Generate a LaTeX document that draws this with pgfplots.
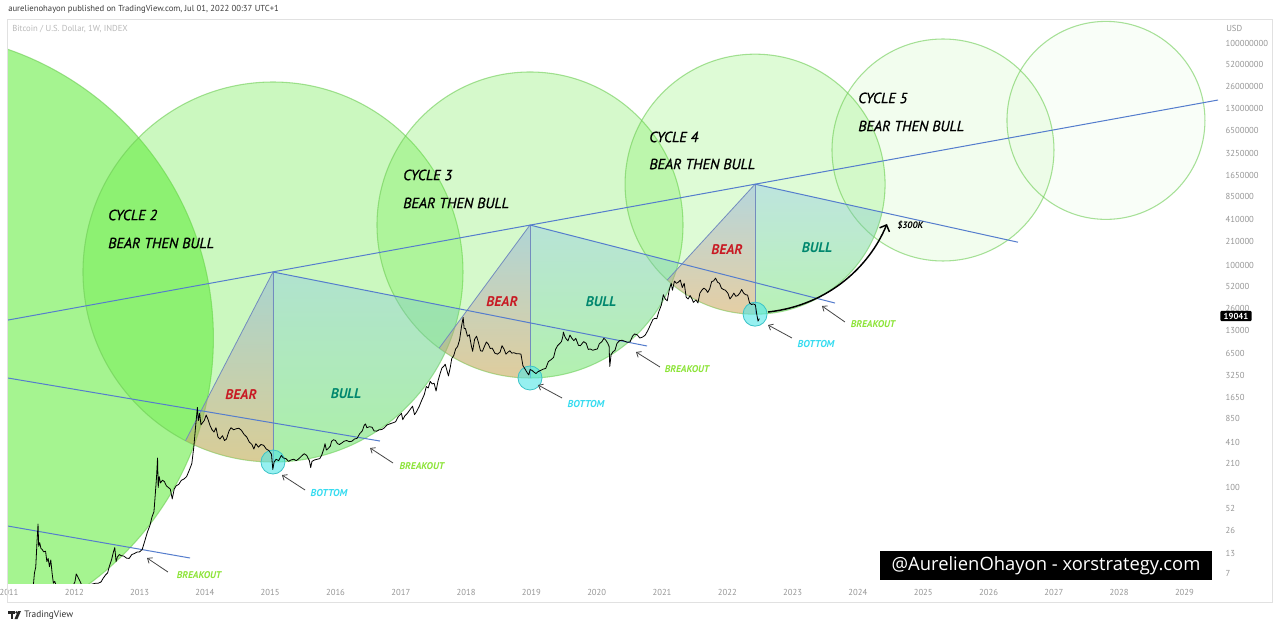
\documentclass[border=0pt]{standalone}
\usepackage{pgfplots}
\pgfplotsset{compat=1.18}
\usepackage{fontspec}
\setmainfont{PT Sans}
\newfontfamily\wmfont{Open Sans}
\newfontfamily\annfont[FakeBold=0.9]{PT Sans}
\usetikzlibrary{arrows.meta}
\definecolor{cgreen}{RGB}{90,235,50}
\definecolor{cedge}{RGB}{110,205,85}
\definecolor{tline}{RGB}{85,125,205}
\definecolor{sedge}{RGB}{115,140,190}
\definecolor{beartop}{RGB}{120,160,230}
\definecolor{bearbot}{RGB}{240,140,90}
\definecolor{bulltop}{RGB}{125,185,240}
\definecolor{bullbot}{RGB}{110,225,120}
\definecolor{cyanfill}{RGB}{80,230,230}
\definecolor{cyanedge}{RGB}{60,195,200}
\definecolor{bearred}{RGB}{200,25,35}
\definecolor{bullteal}{RGB}{0,135,110}
\definecolor{botcyan}{RGB}{55,220,240}
\definecolor{bogreen}{RGB}{140,228,55}
\definecolor{tickgray}{RGB}{150,150,150}
\definecolor{framegray}{RGB}{225,225,225}
\definecolor{arrowgray}{RGB}{70,70,70}
\begin{document}
\begin{tikzpicture}
\useasboundingbox (0pt,0pt) rectangle (960pt,-470.25pt);
\fill[white] (0pt,0pt) rectangle (960pt,-470.25pt);
\begin{axis}[
  at={(6pt,-437.25pt)}, anchor=south west,
  scale only axis, width=907.5pt, height=422.25pt,
  xmin=2010.985, xmax=2029.514,
  ymode=log, ymin=5.125, ymax=2.045e8,
  axis line style={draw=none},
  major tick length=0pt, minor tick length=0pt,
  xtick={2011,2012,2013,2014,2015,2016,2017,2018,2019,2020,2021,2022,2023,2024,2025,2026,2027,2028,2029},
  xticklabels={2011,2012,2013,2014,2015,2016,2017,2018,2019,2020,2021,2022,2023,2024,2025,2026,2027,2028,2029},
  ytick={7,13,26,52,100,210,410,850,1650,3250,6500,13000,26000,52000,100000,210000,410000,850000,1650000,3250000,6500000,13000000,26000000,52000000,100000000},
  yticklabels={7,13,26,52,100,210,410,850,1650,3250,6500,13000,26000,52000,100000,210000,410000,850000,1650000,3250000,6500000,13000000,26000000,52000000,100000000},
  yticklabel pos=right,
  tick label style={font=\fontsize{6.5}{7}\selectfont, text=tickgray},
  xticklabel style={anchor=north, inner sep=0pt, yshift=-4.8pt},
  yticklabel style={anchor=west, inner sep=0pt, xshift=5.5pt},
]
% circles
\draw[cedge, draw opacity=0.6, line width=0.8pt, fill=cgreen, fill opacity=0.54] (rel axis cs:-0.0826,0.4352) circle[radius=229pt];
\draw[cedge, draw opacity=0.6, line width=0.8pt, fill=cgreen, fill opacity=0.31] (rel axis cs:0.2190,0.5524) circle[radius=142.5pt];
\draw[cedge, draw opacity=0.6, line width=0.8pt, fill=cgreen, fill opacity=0.25] (rel axis cs:0.4314,0.6359) circle[radius=114.75pt];
\draw[cedge, draw opacity=0.6, line width=0.8pt, fill=cgreen, fill opacity=0.20] (rel axis cs:0.6174,0.7084) circle[radius=97.5pt];
\draw[cedge, draw opacity=0.6, line width=0.8pt, fill=cgreen, fill opacity=0.08] (rel axis cs:0.7727,0.7691) circle[radius=83.25pt];
\draw[cedge, draw opacity=0.6, line width=0.8pt, fill=cgreen, fill opacity=0.03] (rel axis cs:0.9074,0.8217) circle[radius=74.25pt];
% cycle 2 slices
\shade[top color=beartop, bottom color=bearbot, opacity=0.4] (rel axis cs:0.2190,0.5524) -- ++(242.6:142.5pt) arc[start angle=242.6, end angle=270, radius=142.5pt] -- cycle;
\shade[top color=bulltop, bottom color=bullbot, opacity=0.33] (rel axis cs:0.2190,0.5524) -- ++(270:142.5pt) arc[start angle=270, end angle=348.81, radius=142.5pt] -- cycle;
\draw[sedge, line width=0.6pt] (rel axis cs:0.2190,0.5524) -- ++(242.6:142.5pt);
\draw[sedge, line width=0.6pt] (rel axis cs:0.2190,0.5524) -- ++(270:142.5pt);
% cycle 3 slices
\shade[top color=beartop, bottom color=bearbot, opacity=0.4] (rel axis cs:0.4314,0.6359) -- ++(233.6:114.75pt) arc[start angle=233.6, end angle=270, radius=114.75pt] -- cycle;
\shade[top color=bulltop, bottom color=bullbot, opacity=0.33] (rel axis cs:0.4314,0.6359) -- ++(270:114.75pt) arc[start angle=270, end angle=345.65, radius=114.75pt] -- cycle;
\draw[sedge, line width=0.6pt] (rel axis cs:0.4314,0.6359) -- ++(233.6:114.75pt);
\draw[sedge, line width=0.6pt] (rel axis cs:0.4314,0.6359) -- ++(270:114.75pt);
% cycle 4 slices
\shade[top color=beartop, bottom color=bearbot, opacity=0.4] (rel axis cs:0.6174,0.7084) -- ++(227.5:97.5pt) arc[start angle=227.5, end angle=270, radius=97.5pt] -- cycle;
\shade[top color=bulltop, bottom color=bullbot, opacity=0.33] (rel axis cs:0.6174,0.7084) -- ++(270:97.5pt) arc[start angle=270, end angle=347.56, radius=97.5pt] -- cycle;
\draw[sedge, line width=0.6pt] (rel axis cs:0.6174,0.7084) -- ++(227.5:97.5pt);
\draw[sedge, line width=0.6pt] (rel axis cs:0.6174,0.7084) -- ++(270:97.5pt);
% trend lines
\addplot[tline, line width=0.75pt] coordinates {(2010.985,18197) (2029.514,1.700e7)};
\addplot[tline, line width=0.75pt] coordinates {(2010.985,30.1) (2013.772,11.15)};
\addplot[tline, line width=0.75pt] coordinates {(2010.985,3000) (2016.681,423)};
\addplot[tline, line width=0.75pt] coordinates {(2015.043,80970) (2020.770,8120)};
\addplot[tline, line width=0.75pt] coordinates {(2018.978,349100) (2023.649,30870)};
\addplot[tline, line width=0.75pt] coordinates {(2022.425,1.242e6) (2026.451,204400)};
% bottom markers
\draw[cyanedge, line width=0.6pt, fill=cyanfill, fill opacity=0.6] (rel axis cs:0.2190,0.5524) ++(0pt,-142.5pt) circle[radius=9pt];
\draw[cyanedge, line width=0.6pt, fill=cyanfill, fill opacity=0.6] (rel axis cs:0.4314,0.6359) ++(0pt,-114.75pt) circle[radius=9pt];
\draw[cyanedge, line width=0.6pt, fill=cyanfill, fill opacity=0.6] (rel axis cs:0.6174,0.7084) ++(0pt,-97.5pt) circle[radius=9pt];
% price
\addplot[black, line width=0.6pt, line join=round] coordinates {
(2011.00,0.30) (2011.10,1.0) (2011.20,0.85) (2011.28,0.8) (2011.32,1.5) (2011.36,3.5) (2011.39,7.0) (2011.41,8.4) (2011.43,19) (2011.445,32) (2011.455,16) (2011.47,18) (2011.49,15) (2011.51,14.5) (2011.53,13.5) (2011.56,13.8) (2011.58,10) (2011.60,11) (2011.62,8.5) (2011.64,10.5) (2011.66,7) (2011.68,5.1) (2011.70,5.4) (2011.72,4.8) (2011.76,4.0) (2011.80,3.2) (2011.84,2.5) (2011.87,2.9) (2011.90,3.0) (2011.94,3.4) (2011.98,4.7)
(2012.01,5.3) (2012.03,6.8) (2012.05,6.3) (2012.08,5.6) (2012.11,4.9) (2012.14,4.4) (2012.17,4.9) (2012.21,4.8) (2012.25,4.9) (2012.29,5.0) (2012.33,5.1) (2012.37,5.1) (2012.41,5.3) (2012.44,5.9) (2012.48,6.6) (2012.51,7.0) (2012.54,8.8) (2012.57,10.5) (2012.60,13.5) (2012.62,15.4) (2012.64,10) (2012.66,11.5) (2012.69,12.4) (2012.72,12.0) (2012.76,11.8) (2012.80,11.1) (2012.84,11.0) (2012.88,12.4) (2012.92,12.8) (2012.96,13.4)
(2013.00,13.5) (2013.04,14.5) (2013.08,19) (2013.12,25) (2013.16,31) (2013.19,40) (2013.22,47) (2013.24,80) (2013.26,140) (2013.275,250) (2013.285,100) (2013.30,140) (2013.32,115) (2013.35,125) (2013.38,120) (2013.41,105) (2013.44,100) (2013.47,95) (2013.50,70) (2013.53,95) (2013.56,105) (2013.60,110) (2013.64,125) (2013.68,130) (2013.72,140) (2013.76,170) (2013.80,210) (2013.83,350) (2013.86,700) (2013.885,1200) (2013.90,800) (2013.92,1000) (2013.94,700) (2013.96,740) (2013.99,800)
(2014.02,950) (2014.05,820) (2014.08,680) (2014.11,600) (2014.14,560) (2014.17,640) (2014.20,480) (2014.23,450) (2014.27,500) (2014.30,430) (2014.33,450) (2014.37,580) (2014.40,640) (2014.44,600) (2014.48,620) (2014.52,630) (2014.56,590) (2014.60,520) (2014.64,480) (2014.68,410) (2014.72,380) (2014.75,330) (2014.78,390) (2014.82,350) (2014.86,380) (2014.90,370) (2014.94,330) (2014.98,315)
(2015.02,280) (2015.04,175) (2015.06,220) (2015.09,240) (2015.13,230) (2015.17,270) (2015.20,250) (2015.24,245) (2015.28,225) (2015.32,235) (2015.36,240) (2015.40,230) (2015.44,245) (2015.48,265) (2015.52,285) (2015.56,270) (2015.60,230) (2015.62,185) (2015.64,225) (2015.68,235) (2015.72,240) (2015.76,245) (2015.79,275) (2015.82,330) (2015.84,390) (2015.86,320) (2015.88,330) (2015.92,360) (2015.94,420) (2015.97,440)
(2016.00,430) (2016.03,390) (2016.06,380) (2016.10,400) (2016.13,420) (2016.17,430) (2016.21,415) (2016.25,420) (2016.29,450) (2016.33,460) (2016.37,530) (2016.41,580) (2016.44,690) (2016.46,720) (2016.48,640) (2016.52,660) (2016.56,650) (2016.59,580) (2016.63,575) (2016.67,600) (2016.71,605) (2016.75,640) (2016.79,700) (2016.83,720) (2016.87,740) (2016.92,770) (2016.96,900) (2016.99,960)
(2017.01,1000) (2017.03,820) (2017.06,920) (2017.10,1000) (2017.14,1120) (2017.18,1250) (2017.21,960) (2017.24,1050) (2017.28,1230) (2017.32,1500) (2017.36,1800) (2017.39,2300) (2017.42,2200) (2017.45,2700) (2017.48,2500) (2017.51,2550) (2017.54,2000) (2017.57,2750) (2017.60,3400) (2017.63,4100) (2017.66,4350) (2017.68,4600) (2017.71,3700) (2017.73,3200) (2017.76,4300) (2017.78,5500) (2017.81,6000) (2017.84,7400) (2017.87,8000) (2017.90,9800) (2017.93,15000) (2017.955,19700) (2017.97,14000) (2017.99,14000)
(2018.02,11000) (2018.05,11500) (2018.08,8200) (2018.10,6900) (2018.13,10000) (2018.16,11000) (2018.19,9000) (2018.22,7000) (2018.25,6900) (2018.28,8000) (2018.31,9200) (2018.34,8600) (2018.37,7500) (2018.40,7600) (2018.44,6500) (2018.48,6300) (2018.52,6700) (2018.55,8200) (2018.58,7400) (2018.61,6300) (2018.64,6700) (2018.67,7000) (2018.70,6500) (2018.73,6600) (2018.77,6400) (2018.80,6400) (2018.84,6300) (2018.87,4400) (2018.90,4000) (2018.93,3600) (2018.96,3300) (2018.98,3900)
(2019.01,3800) (2019.04,3600) (2019.07,3450) (2019.10,3650) (2019.14,3800) (2019.18,3950) (2019.22,4050) (2019.26,5000) (2019.30,5300) (2019.34,5700) (2019.37,7300) (2019.40,8200) (2019.43,8700) (2019.46,9300) (2019.48,10800) (2019.49,12500) (2019.51,11000) (2019.53,10200) (2019.56,9500) (2019.59,11400) (2019.62,10300) (2019.65,9600) (2019.68,10300) (2019.72,8300) (2019.75,8200) (2019.80,9300) (2019.84,8800) (2019.87,7300) (2019.90,7400) (2019.94,7100) (2019.98,7300)
(2020.01,7400) (2020.04,8700) (2020.08,9300) (2020.11,10300) (2020.14,9700) (2020.17,8800) (2020.19,8000) (2020.20,4300) (2020.22,6200) (2020.25,6800) (2020.28,7100) (2020.31,8800) (2020.35,9600) (2020.39,9700) (2020.43,9400) (2020.47,9100) (2020.51,9200) (2020.55,11100) (2020.58,11800) (2020.62,11500) (2020.66,10400) (2020.70,10700) (2020.74,11300) (2020.78,13000) (2020.82,15500) (2020.86,18500) (2020.89,19200) (2020.92,19000) (2020.95,23500) (2020.99,29000)
(2021.02,40000) (2021.05,35000) (2021.08,33000) (2021.11,46000) (2021.14,57000) (2021.16,46000) (2021.19,61000) (2021.22,57000) (2021.25,59000) (2021.28,63000) (2021.31,50000) (2021.34,57000) (2021.37,37000) (2021.40,35000) (2021.43,39000) (2021.46,35000) (2021.48,31500) (2021.52,34000) (2021.55,31000) (2021.58,42000) (2021.61,46000) (2021.64,49000) (2021.67,47000) (2021.70,43000) (2021.73,48000) (2021.76,60000) (2021.79,61500) (2021.82,67000) (2021.85,59000) (2021.88,57000) (2021.91,49000) (2021.94,47000) (2021.97,46000)
(2022.01,41700) (2022.04,35000) (2022.07,38000) (2022.10,42000) (2022.13,38000) (2022.16,39000) (2022.19,42000) (2022.22,47000) (2022.25,42000) (2022.28,40000) (2022.31,39500) (2022.34,31000) (2022.37,29500) (2022.40,30000) (2022.43,29000) (2022.45,22000) (2022.47,17600) (2022.49,19041)
};
% cycle texts
\node[anchor=west, inner sep=0pt, font=\annfont\fontsize{11}{12}\selectfont\itshape] at (rel axis cs:0.0826,0.6536) {CYCLE 2};
\node[anchor=west, inner sep=0pt, font=\annfont\fontsize{11}{12}\selectfont\itshape] at (rel axis cs:0.0826,0.6039) {BEAR THEN BULL};
\node[anchor=west, inner sep=0pt, font=\annfont\fontsize{11}{12}\selectfont\itshape] at (rel axis cs:0.3264,0.7247) {CYCLE 3};
\node[anchor=west, inner sep=0pt, font=\annfont\fontsize{11}{12}\selectfont\itshape] at (rel axis cs:0.3264,0.6750) {BEAR THEN BULL};
\node[anchor=west, inner sep=0pt, font=\annfont\fontsize{11}{12}\selectfont\itshape] at (rel axis cs:0.5298,0.7922) {CYCLE 4};
\node[anchor=west, inner sep=0pt, font=\annfont\fontsize{11}{12}\selectfont\itshape] at (rel axis cs:0.5298,0.7442) {BEAR THEN BULL};
\node[anchor=west, inner sep=0pt, font=\annfont\fontsize{11}{12}\selectfont\itshape] at (rel axis cs:0.7025,0.8615) {CYCLE 5};
\node[anchor=west, inner sep=0pt, font=\annfont\fontsize{11}{12}\selectfont\itshape] at (rel axis cs:0.7025,0.8117) {BEAR THEN BULL};
% bear / bull
\node[inner sep=0pt, text=bearred, font=\fontsize{10.5}{12}\selectfont\bfseries\itshape] at (rel axis cs:0.1926,0.3339) {BEAR};
\node[inner sep=0pt, text=bullteal, font=\fontsize{10.5}{12}\selectfont\bfseries\itshape] at (rel axis cs:0.2793,0.3357) {BULL};
\node[inner sep=0pt, text=bearred, font=\fontsize{10.5}{12}\selectfont\bfseries\itshape] at (rel axis cs:0.4083,0.4991) {BEAR};
\node[inner sep=0pt, text=bullteal, font=\fontsize{10.5}{12}\selectfont\bfseries\itshape] at (rel axis cs:0.4901,0.4991) {BULL};
\node[inner sep=0pt, text=bearred, font=\fontsize{10.5}{12}\selectfont\bfseries\itshape] at (rel axis cs:0.5942,0.5915) {BEAR};
\node[inner sep=0pt, text=bullteal, font=\fontsize{10.5}{12}\selectfont\bfseries\itshape] at (rel axis cs:0.6686,0.5950) {BULL};
% bottom labels
\node[inner sep=0pt, text=botcyan, font=\fontsize{7.5}{9}\selectfont\bfseries\itshape] at (rel axis cs:0.2653,0.1599) {BOTTOM};
\node[inner sep=0pt, text=botcyan, font=\fontsize{7.5}{9}\selectfont\bfseries\itshape] at (rel axis cs:0.4777,0.3179) {BOTTOM};
\node[inner sep=0pt, text=botcyan, font=\fontsize{7.5}{9}\selectfont\bfseries\itshape] at (rel axis cs:0.6678,0.4245) {BOTTOM};
\draw[arrowgray, line width=0.6pt, -{Straight Barb[length=3pt,width=5pt]}] (rel axis cs:0.2455,0.1652) -- (rel axis cs:0.2264,0.1918);
\draw[arrowgray, line width=0.6pt, -{Straight Barb[length=3pt,width=5pt]}] (rel axis cs:0.4579,0.3286) -- (rel axis cs:0.4380,0.3517);
\draw[arrowgray, line width=0.6pt, -{Straight Barb[length=3pt,width=5pt]}] (rel axis cs:0.6479,0.4352) -- (rel axis cs:0.6281,0.4583);
% breakout labels
\node[inner sep=0pt, text=bogreen, font=\fontsize{7.3}{9}\selectfont\bfseries\itshape] at (rel axis cs:0.1579,0.0142) {BREAKOUT};
\node[inner sep=0pt, text=bogreen, font=\fontsize{7.3}{9}\selectfont\bfseries\itshape] at (rel axis cs:0.3421,0.2078) {BREAKOUT};
\node[inner sep=0pt, text=bogreen, font=\fontsize{7.3}{9}\selectfont\bfseries\itshape] at (rel axis cs:0.5612,0.3801) {BREAKOUT};
\node[inner sep=0pt, text=bogreen, font=\fontsize{7.3}{9}\selectfont\bfseries\itshape] at (rel axis cs:0.7149,0.4600) {BREAKOUT};
\draw[arrowgray, line width=0.6pt, -{Straight Barb[length=3pt,width=5pt]}] (rel axis cs:0.1322,0.0195) -- (rel axis cs:0.1149,0.0444);
\draw[arrowgray, line width=0.6pt, -{Straight Barb[length=3pt,width=5pt]}] (rel axis cs:0.3182,0.2131) -- (rel axis cs:0.2992,0.2398);
\draw[arrowgray, line width=0.6pt, -{Straight Barb[length=3pt,width=5pt]}] (rel axis cs:0.5388,0.3837) -- (rel axis cs:0.5190,0.4103);
\draw[arrowgray, line width=0.6pt, -{Straight Barb[length=3pt,width=5pt]}] (rel axis cs:0.6917,0.4636) -- (rel axis cs:0.6727,0.4920);
% 300K arrow
\draw[black, line width=1.1pt, -{Straight Barb[length=4pt,width=8pt]}] (rel axis cs:0.6281,0.4813) .. controls (rel axis cs:0.6793,0.4938) and (rel axis cs:0.7124,0.5648) .. (rel axis cs:0.7264,0.6377);
\node[anchor=west, inner sep=0pt, font=\fontsize{7}{8}\selectfont\bfseries\itshape] at (rel axis cs:0.7347,0.6359) {\$300K};
\end{axis}
\begin{scope}[x=0.75pt,y=-0.75pt]
\draw[framegray, line width=0.75pt] (7.5,19.5) rectangle (1272,602);
\node[anchor=west, inner sep=0pt, text={rgb,255:red,60;green,60;blue,60}, font=\fontsize{6.5}{8}\selectfont] at (8,9) {aurelienohayon published on TradingView.com, Jul 01, 2022 00:37 UTC+1};
\node[anchor=west, inner sep=0pt, text={rgb,255:red,185;green,185;blue,185}, font=\fontsize{6.5}{8}\selectfont] at (12,29) {Bitcoin / U.S. Dollar, 1W, INDEX};
\node[anchor=west, inner sep=0pt, text=tickgray, font=\fontsize{6.5}{8}\selectfont] at (1226,28) {USD};
\node[fill=black, text=white, font=\fontsize{6.5}{7}\selectfont\bfseries, inner xsep=2.5pt, inner ysep=1.5pt, rounded corners=0.8pt] at (1236,316) {19041};
\fill[black] (880,551) rectangle (1212,580);
\node[text=white, inner sep=0pt, font=\wmfont\fontsize{13.8}{15}\selectfont] at (1046,565.5) {@AurelienOhayon - xorstrategy.com};
% TradingView logo
\fill[black!85] (8,611) rectangle (15,613.5);
\fill[black!85] (10.5,611) rectangle (13,619);
\fill[black!85] (16.5,612.3) circle[radius=1.3];
\fill[black!85] (18,611) -- (21,611) -- (17.5,619) -- (14.5,619) -- cycle;
\node[anchor=west, inner sep=0pt, text={rgb,255:red,50;green,50;blue,50}, font=\fontsize{7}{8}\selectfont] at (24,615) {TradingView};
\end{scope}
\end{tikzpicture}
\end{document}
